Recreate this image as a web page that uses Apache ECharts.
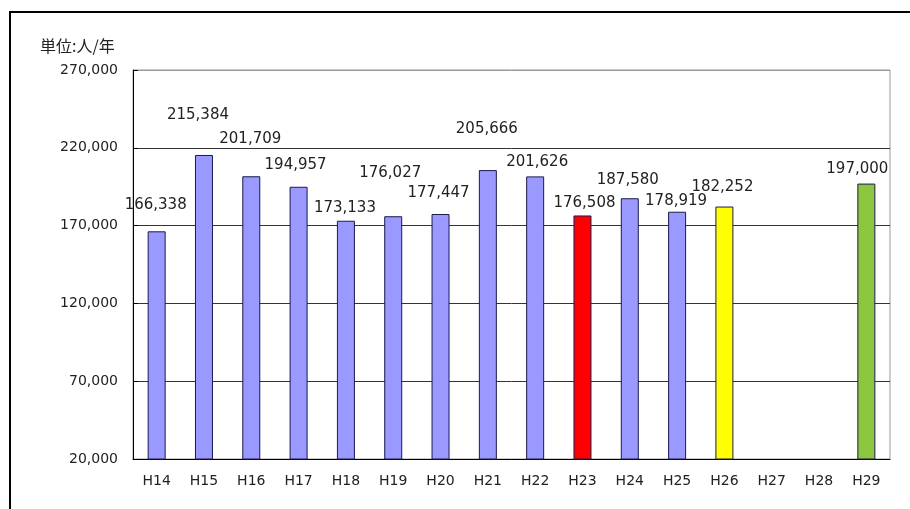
<!DOCTYPE html>
<html>
<head>
<meta charset="utf-8">
<script src="https://cdn.jsdelivr.net/npm/echarts@6/dist/echarts.min.js"></script>
<style>
  html, body { margin: 0; padding: 0; background: #fff; }
  #chart { width: 910px; height: 509px; }
</style>
</head>
<body>
<div id="chart"></div>
<script>
// 年度
const years = ['H14', 'H15', 'H16', 'H17', 'H18', 'H19', 'H20', 'H21', 'H22', 'H23', 'H24', 'H25', 'H26', 'H27', 'H28', 'H29']
// 人数（人/年）
const visitors = [166338, 215384, 201709, 194957, 173133, 176027, 177447, 205666, 201626, 176508, 187580, 178919, 182252, null, null, 197000]
// y軸目盛
const yTicks = [20000, 70000, 120000, 170000, 220000, 270000]

// 棒の色
const barColors = ['#9999ff', '#9999ff', '#9999ff', '#9999ff', '#9999ff', '#9999ff', '#9999ff', '#9999ff', '#9999ff', '#ff0000', '#9999ff', '#9999ff', '#ffff00', '#9999ff', '#9999ff', '#8cc63f']
// ラベルのずれ（元のグラフに合わせる）
const labelOffsets = [[-1, -19], [-6, -32], [-1, -30], [-3, -14], [-1, -5], [-3, -36], [-2, -13], [-1, -33], [2, -7], [2, -5], [-2, -11], [-1, -3], [-2, -12], [0, 0], [0, 0], [-9, -7]]

const chart = echarts.init(document.getElementById('chart'))

const seriesData = visitors.map((v, i) => ({
  value: v,
  itemStyle: { color: barColors[i] },
  label: { offset: labelOffsets[i] }
}))

const option = {
  animation: false,
  textStyle: { fontFamily: 'DejaVu Sans, sans-serif' },
  graphic: [
    {
      type: 'rect',
      shape: { x: 10, y: 12, width: 1000, height: 600 },
      style: { fill: 'none', stroke: '#000', lineWidth: 2 },
      silent: true
    },
    {
      type: 'text',
      left: 40,
      top: 38,
      style: {
        text: '単位:人/年',
        fill: '#222',
        font: '16px "Noto Sans CJK JP", sans-serif'
      }
    }
  ],
  grid: {
    left: 133,
    right: 20,
    top: 70,
    bottom: 50,
    show: true,
    borderColor: '#999',
    borderWidth: 1
  },
  xAxis: {
    type: 'category',
    data: years,
    axisLine: { lineStyle: { color: '#000', width: 1 } },
    axisTick: { inside: true, length: 5, lineStyle: { color: '#000' } },
    axisLabel: { color: '#222', fontSize: 14, margin: 15 }
  },
  yAxis: {
    type: 'value',
    min: yTicks[0],
    max: yTicks[yTicks.length - 1],
    interval: 50000,
    axisLine: { show: true, lineStyle: { color: '#000', width: 1 } },
    axisTick: { show: true, inside: true, length: 5, lineStyle: { color: '#000' } },
    splitLine: { lineStyle: { color: ['#333', '#333', '#333', '#333', '#333', '#999'], width: 1 } },
    axisLabel: {
      color: '#222',
      fontSize: 14,
      margin: 15,
      formatter: (v) => v.toLocaleString('en-US')
    }
  },
  series: [
    {
      type: 'bar',
      data: seriesData,
      barWidth: 18,
      itemStyle: { borderColor: '#1a1a4d', borderWidth: 1 },
      label: {
        show: true,
        position: 'top',
        distance: 0,
        color: '#222',
        fontSize: 15,
        formatter: (p) => p.value.toLocaleString('en-US')
      }
    }
  ]
}

chart.setOption(option)
</script>
</body>
</html>
